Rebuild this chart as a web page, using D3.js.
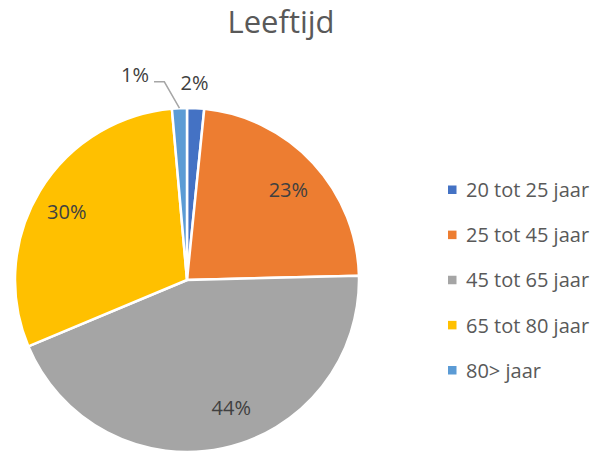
<!DOCTYPE html>
<html>
<head>
<meta charset="utf-8">
<script src="https://cdn.jsdelivr.net/npm/d3@7"></script>
<style>
  html, body { margin: 0; padding: 0; background: #fff; }
  svg { display: block; font-family: "Open Sans", "Noto Sans", sans-serif; }
</style>
</head>
<body>
<svg id="chart" width="600" height="452"></svg>
<script>
// ---- data ----
const title = "Leeftijd";
const categories = ["20 tot 25 jaar", "25 tot 45 jaar", "45 tot 65 jaar", "65 tot 80 jaar", "80> jaar"];
const values = [1.6, 23.0, 44.1, 29.9, 1.4];
const labels = ["2%", "23%", "44%", "30%", "1%"];
const colors = ["#4472C4", "#ED7D31", "#A5A5A5", "#FFC000", "#5B9BD5"];

// label placement tweaks (angle shift in degrees, radius factor)
const labelAngleShift = [-0.7, 1.1, -7.1, -1.4, -11.7];
const labelRadiusFactor = [1.15, 0.79, 0.785, 0.805, 1.23];
const hasLeader = [false, false, false, false, true];

const svg = d3.select("#chart");
const W = 600, H = 452;
const cx = 187, cy = 280, R = 172;

svg.append("text")
  .attr("x", 281).attr("y", 33)
  .attr("text-anchor", "middle")
  .attr("font-size", 31)
  .attr("fill", "#595959")
  .text(title);

const pie = d3.pie().sort(null).value(d => d)(values);
const arc = d3.arc().innerRadius(0).outerRadius(R);

const g = svg.append("g").attr("transform", `translate(${cx},${cy})`);

g.selectAll("path.slice")
  .data(pie)
  .join("path")
  .attr("class", "slice")
  .attr("d", arc)
  .attr("fill", (d, i) => colors[i])
  .attr("stroke", "#fff")
  .attr("stroke-width", 2.5)
  .attr("stroke-linejoin", "round");

function polar(angle, r) {
  return [Math.sin(angle) * r, -Math.cos(angle) * r];
}

pie.forEach((d, i) => {
  const mid = (d.startAngle + d.endAngle) / 2;
  const la = mid + labelAngleShift[i] * Math.PI / 180;
  const [lx, ly] = polar(la, R * labelRadiusFactor[i]);
  const t = g.append("text")
    .attr("x", lx).attr("y", ly)
    .attr("dy", "0.36em")
    .attr("text-anchor", "middle")
    .attr("font-size", 20)
    .attr("fill", "#404040")
    .text(labels[i]);
  if (hasLeader[i]) {
    const p0 = polar(mid, R);
    const p1 = polar(mid - 4 * Math.PI / 180, R * 1.16);
    const bb = t.node().getBBox();
    const p2 = [bb.x + bb.width + 5, p1[1]];
    g.append("polyline")
      .attr("points", [p0, p1, p2].map(p => p.join(",")).join(" "))
      .attr("fill", "none")
      .attr("stroke", "#A6A6A6")
      .attr("stroke-width", 1.5);
  }
});

// legend
const legendY = d3.scalePoint().domain(categories).range([190, 370.5]);
const lg = svg.append("g");
categories.forEach((c, i) => {
  const y = legendY(c);
  lg.append("rect")
    .attr("x", 448).attr("y", y - 4.5)
    .attr("width", 8.5).attr("height", 8.5)
    .attr("fill", colors[i]);
  lg.append("text")
    .attr("x", 466).attr("y", y)
    .attr("dy", "0.36em")
    .attr("font-size", 20)
    .attr("fill", "#595959")
    .text(c);
});
</script>
</body>
</html>
